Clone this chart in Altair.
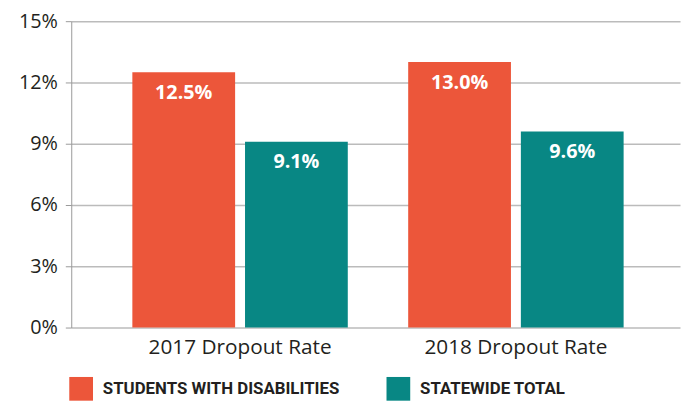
import altair as alt
import pandas as pd

categories = ["2017 Dropout Rate", "2018 Dropout Rate"]
groups = ["STUDENTS WITH DISABILITIES", "STATEWIDE TOTAL"]
swd_values = [0.125, 0.130]
statewide_values = [0.091, 0.096]
y_ticks = [0, 0.03, 0.06, 0.09, 0.12, 0.15]
colors = ["#EC563A", "#088784"]

rows = []
for i, c in enumerate(categories):
    rows.append({"cat": c, "group": groups[0], "value": swd_values[i]})
    rows.append({"cat": c, "group": groups[1], "value": statewide_values[i]})
df = pd.DataFrame(rows)

FONT = "Open Sans"
TXT = "#231f20"

x = alt.X("cat:N", sort=categories,
          scale=alt.Scale(paddingInner=0.219, paddingOuter=0.213, align=0.52),
          axis=alt.Axis(title=None, labelAngle=0, ticks=False, domain=False,
                        labelFontSize=21, labelFont=FONT, labelColor=TXT,
                        labelPadding=9, labelLimit=400))
xoff = alt.XOffset("group:N", sort=groups,
                   scale=alt.Scale(paddingInner=0.088, paddingOuter=0))
y = alt.Y("value:Q", scale=alt.Scale(domain=[0, 0.15], nice=False),
          axis=alt.Axis(title=None, values=y_ticks, format=".0%",
                        labelFontSize=20, labelFont=FONT, labelColor=TXT,
                        tickSize=6, tickColor="#999999", domainColor="#999999",
                        gridColor="#bbbbbb", gridWidth=1.5, labelPadding=8))

bars = alt.Chart(df).mark_bar().encode(
    x=x, xOffset=xoff, y=y,
    color=alt.Color("group:N", sort=groups,
                    scale=alt.Scale(domain=groups, range=colors),
                    legend=alt.Legend(title=None, orient="none", direction="horizontal",
                                      legendX=-2, legendY=360,
                                      symbolType="square", symbolSize=576,
                                      symbolStrokeWidth=0, symbolOpacity=1,
                                      labelFont="Roboto", labelFontWeight="bold",
                                      labelFontSize=17, labelColor=TXT,
                                      labelOffset=10, columnPadding=47,
                                      labelLimit=400)),
)

labels = alt.Chart(df).mark_text(
    baseline="middle", dy=21, color="white", font=FONT,
    fontWeight="bold", fontSize=20
).encode(
    x=x, xOffset=xoff, y=y,
    text=alt.Text("value:Q", format=".1%"),
)

chart = (bars + labels).properties(
    width=616, height=310,
    autosize=alt.AutoSizeParams(type="none"),
    padding={"left": 64, "top": 11, "right": 2, "bottom": 74},
).configure_view(stroke=None)

chart.save("out.html", embed_options={"renderer": "svg", "actions": False})
